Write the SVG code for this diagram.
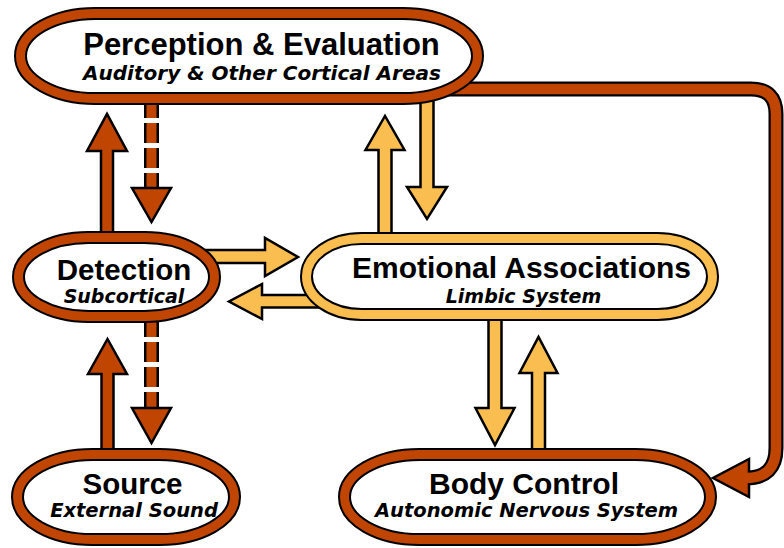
<svg xmlns="http://www.w3.org/2000/svg" width="784" height="548" viewBox="0 0 784 548">
<style>
.edge{fill:#fff;stroke:#000;stroke-width:13}
.band-b{fill:none;stroke:#BF4500;stroke-width:9}
.band-y{fill:none;stroke:#F9BE4F;stroke-width:9}
.title{font-family:"Liberation Sans",Arial,sans-serif;font-weight:bold;text-anchor:middle;fill:#000}
.sub{font-family:"DejaVu Sans",sans-serif;font-weight:bold;font-style:italic;text-anchor:middle;fill:#000}
.ab{fill:#BF4500;stroke:#000;stroke-width:2.5;stroke-linejoin:miter}
.ay{fill:#F9BE4F;stroke:#000;stroke-width:2.5;stroke-linejoin:miter}
.dash-k{fill:none;stroke:#000;stroke-width:15;stroke-dasharray:20 5}
.dash-b{fill:none;stroke:#BF4500;stroke-width:10;stroke-dasharray:20 5}
.curve-k{fill:none;stroke:#000;stroke-width:15}
.curve-b{fill:none;stroke:#BF4500;stroke-width:10.5}
</style>
<rect width="784" height="548" fill="#fff"/>
<g id="connectors">
  <!-- Detection -> Perception -->
  <polygon class="ab" points="101,245 101,151 87,151 107,114 127,151 113,151 113,245"/>
  <!-- Perception -> Detection (dashed) -->
  <line class="dash-k" x1="151.5" y1="98" x2="151.5" y2="192"/>
  <line class="dash-b" x1="151.5" y1="98" x2="151.5" y2="192"/>
  <polygon class="ab" points="132,188 171,188 151.5,222"/>
  <!-- Source -> Detection -->
  <polygon class="ab" points="101.5,465 101.5,374 88,374 107.5,339 127,374 113.5,374 113.5,465"/>
  <!-- Detection -> Source (dashed) -->
  <line class="dash-k" x1="151.5" y1="317" x2="151.5" y2="412"/>
  <line class="dash-b" x1="151.5" y1="317" x2="151.5" y2="412"/>
  <polygon class="ab" points="132,408 171,408 151.5,443"/>
  <!-- Detection -> Emotional -->
  <polygon class="ay" points="200,250 265,250 265,238 298,257 265,276 265,263 200,263"/>
  <!-- Emotional -> Detection -->
  <polygon class="ay" points="330,295 262,295 262,284 229,301.5 262,319 262,307.5 330,307.5"/>
  <!-- Emotional -> Perception -->
  <polygon class="ay" points="378.5,246 378.5,150 365.5,150 385,116 404.5,150 391.5,150 391.5,246"/>
  <!-- Perception -> Emotional -->
  <polygon class="ay" points="420.5,92 433.5,92 433.5,187 447,187 427,219 407,187 420.5,187"/>
  <!-- Emotional -> Body -->
  <polygon class="ay" points="488.5,308 501.5,308 501.5,408 514.5,408 495,445 475.5,408 488.5,408"/>
  <!-- Body -> Emotional -->
  <polygon class="ay" points="532,462 532,373 519.5,373 538.5,337 557.5,373 545,373 545,462"/>
  <!-- Perception -> Body Control -->
  <path class="curve-k" d="M440 89 H751 Q776 89 776 114 V448 Q776 478 746 478 H740"/>
  <polygon class="ab" points="749,459 749,497 713,478"/>
  <path class="curve-b" d="M440 89 H751 Q776 89 776 114 V448 Q776 478 746 478 H740"/>
</g>
<g id="perception">
  <rect class="edge" x="20.5" y="13.5" width="457" height="85" rx="75" ry="42.5"/>
  <rect class="band-b" x="20.5" y="13.5" width="457" height="85" rx="75" ry="42.5"/>
  <text class="title" x="261.5" y="55" font-size="31">Perception &amp; Evaluation</text>
  <text class="sub" x="262" y="80" font-size="20">Auditory &amp; Other Cortical Areas</text>
</g>
<g id="detection">
  <rect class="edge" x="18.5" y="237.5" width="196" height="79" rx="70" ry="39.5"/>
  <rect class="band-b" x="18.5" y="237.5" width="196" height="79" rx="70" ry="39.5"/>
  <text class="title" x="124" y="280" font-size="29.5">Detection</text>
  <text class="sub" x="124" y="303" font-size="19">Subcortical</text>
</g>
<g id="emotional">
  <rect class="edge" x="306.5" y="238.5" width="406" height="76" rx="55" ry="38"/>
  <rect class="band-y" x="306.5" y="238.5" width="406" height="76" rx="55" ry="38"/>
  <text class="title" x="521.5" y="278" font-size="30">Emotional Associations</text>
  <text class="sub" x="523.5" y="303" font-size="19">Limbic System</text>
</g>
<g id="source">
  <rect class="edge" x="17.5" y="454.5" width="217" height="85" rx="75" ry="42.5"/>
  <rect class="band-b" x="17.5" y="454.5" width="217" height="85" rx="75" ry="42.5"/>
  <text class="title" x="132.5" y="494" font-size="29.5">Source</text>
  <text class="sub" x="134" y="517" font-size="19.5">External Sound</text>
</g>
<g id="body">
  <rect class="edge" x="344.5" y="454.5" width="366" height="85" rx="75" ry="42.5"/>
  <rect class="band-b" x="344.5" y="454.5" width="366" height="85" rx="75" ry="42.5"/>
  <text class="title" x="524" y="494" font-size="30">Body Control</text>
  <text class="sub" x="526.5" y="517" font-size="19.5">Autonomic Nervous System</text>
</g>
</svg>
